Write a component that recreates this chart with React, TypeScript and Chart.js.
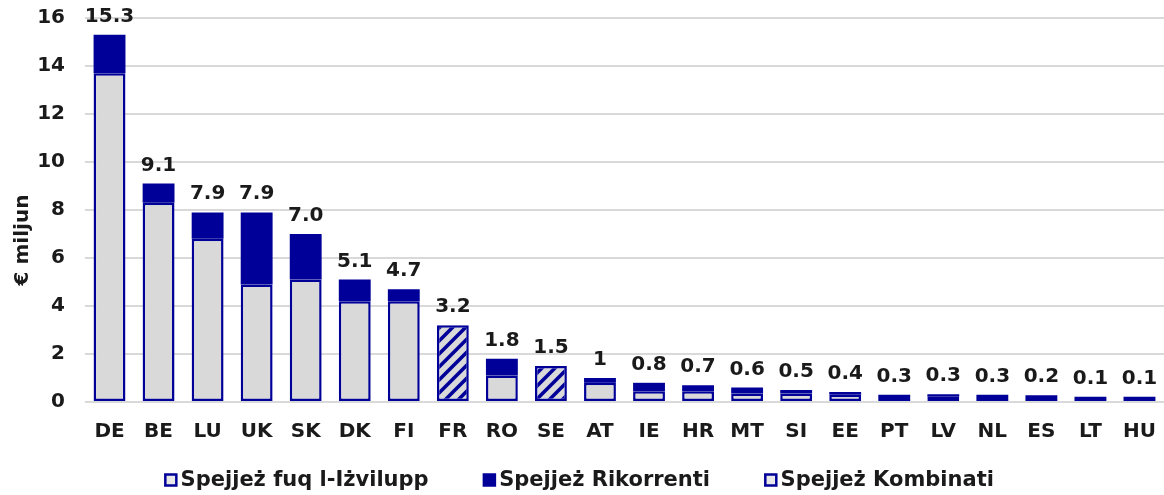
import React, { useEffect, useRef } from 'react';
import { Chart, registerables } from 'chart.js';

Chart.register(...registerables);

const categories = ['DE', 'BE', 'LU', 'UK', 'SK', 'DK', 'FI', 'FR', 'RO', 'SE', 'AT', 'IE', 'HR', 'MT', 'SI', 'EE', 'PT', 'LV', 'NL', 'ES', 'LT', 'HU'];
const developmentValues = [13.7, 8.3, 6.8, 4.9, 5.1, 4.2, 4.2, null, 1.1, null, 0.8, 0.45, 0.45, 0.35, 0.35, 0.3, null, 0.22, null, null, null, null];
const recurrentValues = [1.6, 0.8, 1.1, 3.0, 1.9, 0.9, 0.5, null, 0.7, null, 0.2, 0.35, 0.25, 0.25, 0.15, 0.12, 0.3, 0.1, 0.3, 0.28, 0.22, 0.22];
const combinedValues = [null, null, null, null, null, null, null, 3.2, null, 1.5, null, null, null, null, null, null, null, null, null, null, null, null];
const totalLabels = ['15.3', '9.1', '7.9', '7.9', '7.0', '5.1', '4.7', '3.2', '1.8', '1.5', '1', '0.8', '0.7', '0.6', '0.5', '0.4', '0.3', '0.3', '0.3', '0.2', '0.1', '0.1'];
const seriesNames = ['Spejjeż fuq l-Iżvilupp', 'Spejjeż Rikorrenti', 'Spejjeż Kombinati'];
const yTitle = '€ miljun';

const BLUE = '#000099';
const GREY = '#d9d9d9';
const TEXT = '#1a1a1a';
const FONT = "'DejaVu Sans', Verdana, sans-serif";

function makeHatch(): CanvasPattern | string {
  const n = 13;
  const c = document.createElement('canvas');
  c.width = n;
  c.height = n;
  const g = c.getContext('2d');
  if (!g) return GREY;
  g.fillStyle = GREY;
  g.fillRect(0, 0, n, n);
  g.strokeStyle = BLUE;
  g.lineWidth = 3.6;
  g.beginPath();
  g.moveTo(-n / 2, n / 2); g.lineTo(n / 2, -n / 2);
  g.moveTo(0, n); g.lineTo(n, 0);
  g.moveTo(n / 2, n * 1.5); g.lineTo(n * 1.5, n / 2);
  g.stroke();
  return g.createPattern(c, 'repeat') || GREY;
}

const totalsPlugin = {
  id: 'totals',
  afterDatasetsDraw(chart: any) {
    const { ctx } = chart;
    const xs = chart.scales.x;
    const ys = chart.scales.y;
    ctx.save();
    ctx.font = `bold 20px ${FONT}`;
    ctx.fillStyle = TEXT;
    ctx.textAlign = 'center';
    ctx.textBaseline = 'alphabetic';
    categories.forEach((_, i) => {
      const sum = chart.data.datasets.reduce((s: number, ds: any) => s + (Number(ds.data[i]) || 0), 0);
      const x = xs.getPixelForValue(i);
      const y = ys.getPixelForValue(sum);
      ctx.fillText(totalLabels[i], x, y - 13);
    });
    ctx.translate(23, 240);
    ctx.rotate(-Math.PI / 2);
    ctx.textBaseline = 'middle';
    ctx.fillText(yTitle, 0, 0);
    ctx.restore();
  },
};

const legendPlugin = {
  id: 'customLegend',
  afterDraw(chart: any) {
    const { ctx } = chart;
    const box = 11;
    const lw = 2.5;
    const gapText = 3 + lw / 2;
    const gapItem = 54;
    const y = 481;
    ctx.save();
    ctx.font = `bold 21px ${FONT}`;
    const widths = seriesNames.map((t) => ctx.measureText(t).width);
    const itemW = widths.map((w) => lw / 2 + box + gapText + w);
    const total = itemW.reduce((a, b) => a + b, 0) + gapItem * (seriesNames.length - 1);
    let x = chart.width / 2 - total / 2 - 3;
    seriesNames.forEach((t, i) => {
      const bx = x + lw / 2;
      ctx.fillStyle = i === 1 ? BLUE : '#e8e8e8';
      ctx.fillRect(bx, y - box / 2 - 1, box, box);
      ctx.strokeStyle = BLUE;
      ctx.lineWidth = lw;
      ctx.strokeRect(bx, y - box / 2 - 1, box, box);
      ctx.fillStyle = TEXT;
      ctx.textAlign = 'left';
      ctx.textBaseline = 'middle';
      ctx.fillText(t, bx + box + gapText, y);
      x += itemW[i] + gapItem;
    });
    ctx.restore();
  },
};

export default function App() {
  const ref = useRef<HTMLCanvasElement | null>(null);

  useEffect(() => {
    if (!ref.current) return;
    const hatch = makeHatch();
    const chart = new Chart(ref.current, {
      type: 'bar',
      data: {
        labels: categories,
        datasets: [
          {
            label: seriesNames[0],
            data: developmentValues as any,
            backgroundColor: GREY,
            borderColor: BLUE,
            borderWidth: 2.5,
            borderSkipped: false,
          },
          {
            label: seriesNames[1],
            data: recurrentValues as any,
            backgroundColor: BLUE,
            borderColor: BLUE,
            borderWidth: 0,
            borderSkipped: false,
          },
          {
            label: seriesNames[2],
            data: combinedValues as any,
            backgroundColor: hatch as any,
            borderColor: BLUE,
            borderWidth: 2.5,
            borderSkipped: false,
          },
        ],
      },
      options: {
        animation: false,
        responsive: true,
        maintainAspectRatio: false,
        layout: { padding: { top: 18, bottom: 51, left: 0, right: 0 } },
        datasets: { bar: { barPercentage: 0.65, categoryPercentage: 1 } },
        plugins: {
          tooltip: { enabled: false },
          legend: { display: false },
        },
        scales: {
          x: {
            stacked: true,
            grid: { display: false, drawTicks: true, tickLength: 18, tickColor: 'rgba(0,0,0,0)' },
            border: { display: false },
            ticks: { font: { family: FONT, size: 20, weight: 'bold' }, color: TEXT, padding: 0, maxRotation: 0, autoSkip: false },
          },
          y: {
            stacked: true,
            min: 0,
            max: 16,
            grid: { color: GREY, lineWidth: 2, drawTicks: true, tickLength: 20, tickColor: 'rgba(0,0,0,0)' },
            border: { display: false },
            ticks: { stepSize: 2, font: { family: FONT, size: 20, weight: 'bold' }, color: TEXT, padding: 0 },
            afterFit: (s: any) => { s.width = 85; },
          },
        },
      },
      plugins: [totalsPlugin, legendPlugin],
    });
    return () => chart.destroy();
  }, []);

  return (
    <div style={{ position: 'fixed', left: 0, top: 0, width: 1164, height: 495, background: '#fff' }}>
      <canvas ref={ref} />
    </div>
  );
}
